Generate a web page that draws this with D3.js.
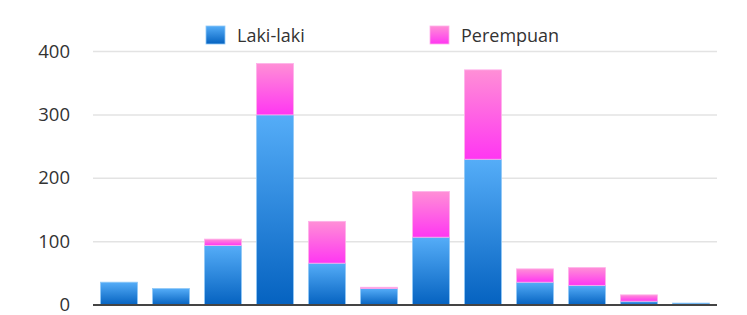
<!DOCTYPE html>
<html>
<head>
<meta charset="utf-8">
<script src="https://cdn.jsdelivr.net/npm/d3@7"></script>
<style>
  body { margin: 0; background: #fff; }
  svg { font-family: "Open Sans", sans-serif; }
</style>
</head>
<body>
<div id="chart"></div>
<script>
// data
const categories = ["1", "2", "3", "4", "5", "6", "7", "8", "9", "10", "11", "12"];
const laki = [36, 26, 94, 300, 66, 26, 107, 230, 36, 31, 6, 3];
const perempuan = [0, 0, 10, 81, 66, 2, 72, 141, 21, 28, 10, 0];
const yTicks = [0, 100, 200, 300, 400];
const seriesNames = ["Laki-laki", "Perempuan"];

const width = 747, height = 315;
const svg = d3.select("#chart").append("svg")
    .attr("width", width)
    .attr("height", height);

// gradients
const defs = svg.append("defs");
const grads = [
    {id: "gBlue", top: "#55adf8", bottom: "#0562c0"},
    {id: "gPink", top: "#ff8fd6", bottom: "#ff36f2"}
];
grads.forEach(g => {
    const lg = defs.append("linearGradient")
        .attr("id", g.id)
        .attr("x1", 0).attr("y1", 0).attr("x2", 0).attr("y2", 1);
    lg.append("stop").attr("offset", "0%").attr("stop-color", g.top);
    lg.append("stop").attr("offset", "100%").attr("stop-color", g.bottom);
});

const x = d3.scaleBand()
    .domain(categories)
    .range([93, 717])
    .paddingInner(0.29)
    .paddingOuter(0.145);

const y = d3.scaleLinear()
    .domain([0, 400])
    .range([305, 51.5]);

// grid
svg.append("g")
    .selectAll("line")
    .data(yTicks.filter(d => d > 0))
    .enter()
    .append("line")
    .attr("x1", 93)
    .attr("x2", 717)
    .attr("y1", d => y(d))
    .attr("y2", d => y(d))
    .style("stroke", "#e3e3e3")
    .style("stroke-width", 1.5);

// y axis labels
const yAxis = d3.axisLeft(y).tickValues(yTicks).tickSize(0).tickPadding(0);
const ya = svg.append("g")
    .attr("transform", "translate(70,0)")
    .call(yAxis);
ya.select(".domain").remove();
ya.selectAll("text")
    .attr("dy", "0.3em")
    .style("font-family", "'Open Sans', sans-serif")
    .style("font-size", "18.5px")
    .style("fill", "#333");

// stacked bars
const rows = categories.map((c, i) => ({cat: c, laki: laki[i], perempuan: perempuan[i]}));
const stack = d3.stack().keys(["laki", "perempuan"]);
const layers = stack(rows);
const fills = ["url(#gBlue)", "url(#gPink)"];
const edges = ["#8fc8f7", "#ffb0ea"];

svg.selectAll("g.layer")
    .data(layers)
    .enter()
    .append("g")
    .attr("class", "layer")
    .each(function (layer, li) {
        d3.select(this).selectAll("rect")
            .data(layer.filter(d => d[1] - d[0] > 0))
            .enter()
            .append("rect")
            .attr("x", d => x(d.data.cat))
            .attr("width", x.bandwidth())
            .attr("y", d => y(d[1]))
            .attr("height", d => y(d[0]) - y(d[1]))
            .style("fill", fills[li])
            .style("stroke", edges[li])
            .style("stroke-width", 0.8);
    });

// baseline
svg.append("line")
    .attr("x1", 93)
    .attr("x2", 717)
    .attr("y1", y(0))
    .attr("y2", y(0))
    .style("stroke", "#444")
    .style("stroke-width", 2);

// legend
const legend = svg.append("g");
const legendX = [206, 430];
seriesNames.forEach((name, i) => {
    const g = legend.append("g").attr("transform", `translate(${legendX[i]},26)`);
    g.append("rect")
        .attr("width", 19)
        .attr("height", 18)
        .style("fill", fills[i])
        .style("stroke", edges[i])
        .style("stroke-width", 0.8);
    g.append("text")
        .attr("x", 31)
        .attr("y", 16)
        .style("font-size", "18px")
        .style("fill", "#333")
        .text(name);
});
</script>
</body>
</html>
